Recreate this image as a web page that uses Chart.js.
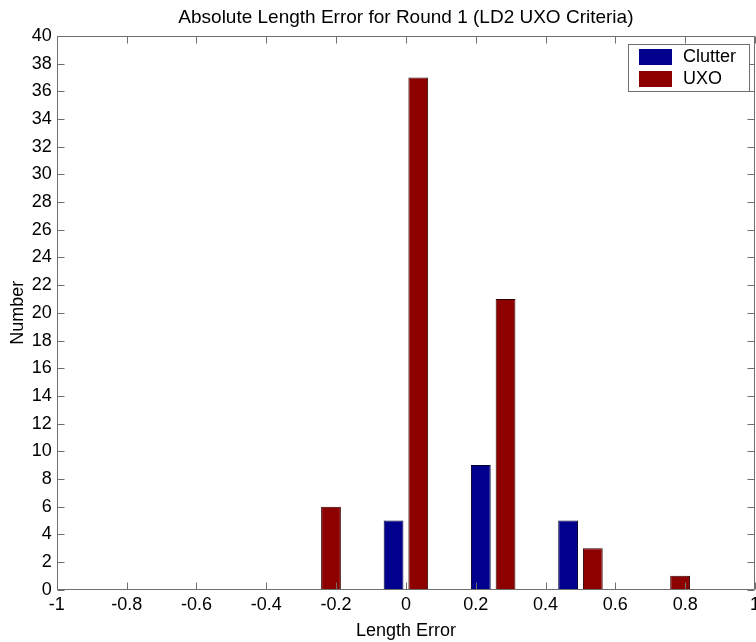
<!DOCTYPE html>
<html>
<head>
<meta charset="utf-8">
<script src="https://cdn.jsdelivr.net/npm/chart.js@4/dist/chart.umd.min.js"></script>
<style>
  html, body { margin: 0; padding: 0; background: #fff; overflow: hidden; width: 756px; height: 642px; }
  #wrap { position: absolute; left: 0; top: 0; width: 780px; height: 642px; }
</style>
</head>
<body>
<div id="wrap"><canvas id="c" width="780" height="642"></canvas></div>
<script>
// ---- data ----
const bins = [-0.25, 0, 0.25, 0.5, 0.75];       // bin centres (Length Error)
const clutterCounts = [0, 5, 9, 5, 0];
const uxoCounts = [6, 37, 21, 3, 1];
const seriesLabels = ['Clutter', 'UXO'];
const titleText = 'Absolute Length Error for Round 1 (LD2 UXO Criteria)';
const xTitle = 'Length Error';
const yTitle = 'Number';
const xRange = [-1, 1];
const yRange = [0, 40];
const xStep = 0.2;
const yStep = 2;

const FONT = 'Liberation Sans, Arial, Helvetica, sans-serif';
const FRAME = '#6f6f6f';

function toPoints(vals) { return bins.map((b, i) => ({ x: b, y: vals[i] })); }

const framePlugin = {
  id: 'frame',
  afterDraw(chart) {
    const { ctx, chartArea: a, scales } = chart;
    const L = Math.round(a.left) + 0.5, R = Math.round(a.right) - 0.5;
    const T = Math.round(a.top) + 0.5, B = Math.round(a.bottom) - 0.5;
    ctx.save();
    ctx.strokeStyle = FRAME;
    ctx.lineWidth = 1;
    ctx.beginPath();
    ctx.rect(L, T, R - L, B - T);
    const tl = 7;
    scales.x.ticks.forEach(t => {
      const px = Math.round(scales.x.getPixelForValue(t.value)) + 0.5;
      ctx.moveTo(px, B); ctx.lineTo(px, B - tl);
      ctx.moveTo(px, T); ctx.lineTo(px, T + tl);
    });
    scales.y.ticks.forEach(t => {
      const py = Math.round(scales.y.getPixelForValue(t.value)) + 0.5;
      ctx.moveTo(L, py); ctx.lineTo(L + tl, py);
      ctx.moveTo(R, py); ctx.lineTo(R - tl, py);
    });
    ctx.stroke();

    // legend box (top-right inside plot)
    const bx = 628.5, by = 44.5, bw = 121, bh = 47;
    ctx.fillStyle = '#fff';
    ctx.fillRect(bx, by, bw, bh);
    ctx.strokeStyle = FRAME;
    ctx.strokeRect(bx, by, bw, bh);
    ctx.font = '18px ' + FONT;
    ctx.textBaseline = 'middle';
    ctx.textAlign = 'left';
    chart.data.datasets.forEach((ds, i) => {
      const sy = 49 + i * 22;
      ctx.fillStyle = ds.backgroundColor;
      ctx.fillRect(639, sy, 33, 16);
      ctx.fillStyle = '#000';
      ctx.fillText(ds.label, 683, sy + 8.5);
    });
    ctx.restore();
  }
};

new Chart(document.getElementById('c'), {
  type: 'bar',
  data: {
    datasets: [
      { label: seriesLabels[0], data: toPoints(clutterCounts), backgroundColor: '#00008c', borderColor: '#000030', borderWidth: 1 },
      { label: seriesLabels[1], data: toPoints(uxoCounts), backgroundColor: '#8c0000', borderColor: '#300000', borderWidth: 1 }
    ]
  },
  options: {
    responsive: false,
    animation: false,
    layout: { padding: { left: 1, top: 3, right: 25, bottom: 0 } },
    datasets: { bar: { categoryPercentage: 0.708, barPercentage: 0.8, grouped: true } },
    plugins: {
      legend: { display: false },
      tooltip: { enabled: false },
      title: {
        display: true, text: titleText, color: '#000', fullSize: false,
        font: { family: FONT, size: 19, weight: 'normal' },
        padding: { top: 3, bottom: 7.2 }
      }
    },
    scales: {
      x: {
        type: 'linear', min: xRange[0], max: xRange[1],
        offset: false,
        grid: { display: false, drawTicks: false },
        border: { display: false },
        ticks: {
          stepSize: xStep, autoSkip: false, maxRotation: 0, padding: 4.5, color: '#000',
          font: { family: FONT, size: 18 },
          callback: v => { const r = Math.round(v * 10) / 10; return r === 0 ? '0' : String(r); }
        },
        title: { display: true, text: xTitle, color: '#000', font: { family: FONT, size: 18 }, padding: { top: 0.1, bottom: 0 } }
      },
      y: {
        min: yRange[0], max: yRange[1],
        grid: { display: false, drawTicks: false },
        border: { display: false },
        ticks: { stepSize: yStep, autoSkip: false, padding: 5, color: '#000', font: { family: FONT, size: 18 } },
        title: { display: true, text: yTitle, color: '#000', font: { family: FONT, size: 18 }, padding: { top: 6.2, bottom: -2 } }
      }
    }
  },
  plugins: [framePlugin]
});
</script>
</body>
</html>
